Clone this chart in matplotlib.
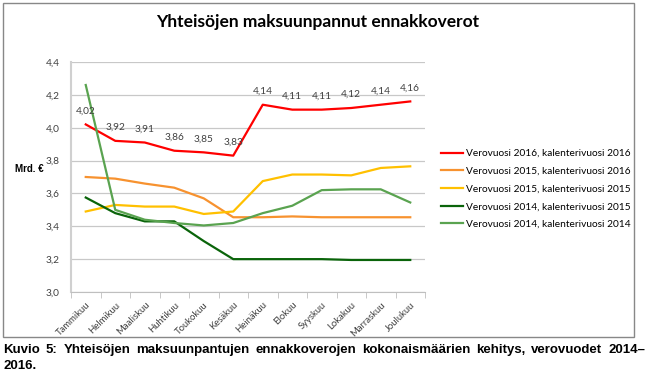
import matplotlib
matplotlib.use("Agg")
import matplotlib.pyplot as plt
from matplotlib import font_manager
from matplotlib.patches import Rectangle
from matplotlib.ticker import FuncFormatter

months = ["Tammikuu", "Helmikuu", "Maaliskuu", "Huhtikuu", "Toukokuu", "Kesäkuu",
          "Heinäkuu", "Elokuu", "Syyskuu", "Lokakuu", "Marraskuu", "Joulukuu"]

vv2016_kv2016 = [4.02, 3.92, 3.91, 3.86, 3.85, 3.83, 4.14, 4.11, 4.11, 4.12, 4.14, 4.16]
vv2015_kv2016 = [3.70, 3.69, 3.66, 3.635, 3.57, 3.455, 3.455, 3.46, 3.455, 3.455, 3.455, 3.455]
vv2015_kv2015 = [3.49, 3.53, 3.52, 3.52, 3.475, 3.49, 3.675, 3.715, 3.715, 3.71, 3.755, 3.765]
vv2014_kv2015 = [3.575, 3.48, 3.43, 3.43, 3.31, 3.20, 3.20, 3.20, 3.20, 3.195, 3.195, 3.195]
vv2014_kv2014 = [4.26, 3.50, 3.44, 3.42, 3.405, 3.42, 3.48, 3.525, 3.62, 3.625, 3.625, 3.545]

series = [
    ("Verovuosi 2016, kalenterivuosi 2016", vv2016_kv2016, "#FF0000"),
    ("Verovuosi 2015, kalenterivuosi 2016", vv2015_kv2016, "#F7922F"),
    ("Verovuosi 2015, kalenterivuosi 2015", vv2015_kv2015, "#FFC000"),
    ("Verovuosi 2014, kalenterivuosi 2015", vv2014_kv2015, "#0A640A"),
    ("Verovuosi 2014, kalenterivuosi 2014", vv2014_kv2014, "#5AA350"),
]

W, H = 648, 380
fig = plt.figure(figsize=(W / 100, H / 100), dpi=100)

# kehys kaavion ympärillä
fig.patches.append(Rectangle((3 / W, 1 - 337 / H), 631 / W, 334 / H,
                             transform=fig.transFigure, fill=False,
                             edgecolor="#888888", linewidth=1.0))

ax = fig.add_axes([71 / W, 1 - 292 / H, 354 / W, 230 / H])
x = list(range(len(months)))
for label, vals, color in series:
    ax.plot(x, vals, color=color, linewidth=1.6, label=label)

for xi, v in zip(x, vv2016_kv2016):
    ax.annotate(f"{v:.2f}".replace(".", ","), (xi, v), xytext=(0, 6.5),
                textcoords="offset points", ha="center", va="bottom",
                fontsize=7.3, family="Lato", color="#404040")

ax.set_xlim(-0.5, 11.5)
ax.set_ylim(3.0, 4.4)
ax.set_yticks([3.0, 3.2, 3.4, 3.6, 3.8, 4.0, 4.2, 4.4])
ax.yaxis.set_major_formatter(FuncFormatter(lambda v, _: f"{v:.1f}".replace(".", ",")))
ax.set_xticks(x)
ax.set_xticklabels(months, rotation=45, ha="right", rotation_mode="anchor",
                   fontsize=6.8, family="Lato", color="#404040")
ax.set_xticks([i - 0.5 for i in range(13)], minor=True)
ax.tick_params(axis="x", which="major", length=0, pad=6)
ax.tick_params(axis="x", which="minor", length=4, color="#BFBFBF")
ax.tick_params(axis="y", length=0, labelsize=7.3, labelcolor="#404040", pad=8)
for t in ax.get_yticklabels():
    t.set_family("Lato")
ax.grid(True, axis="y", color="#C8C8C8", linewidth=0.9)
ax.set_axisbelow(True)
for side in ("top", "right"):
    ax.spines[side].set_visible(False)
ax.spines["left"].set_color("#D0D0D0")
ax.spines["left"].set_linewidth(1.5)
ax.spines["bottom"].set_color("#BFBFBF")

fig.text(44 / W, 1 - 169 / H, "Mrd. €", ha="right", va="center",
         fontsize=7, fontweight="bold", family="Liberation Sans")

fig.text(318 / W, 1 - 22 / H, "Yhteisöjen maksuunpannut ennakkoverot",
         ha="center", va="center", fontsize=12.5, fontweight="bold", family="Lato")

ax.legend(loc="upper left", bbox_to_anchor=(436 / W, 1 - 144 / H),
          bbox_transform=fig.transFigure, frameon=False,
          prop={"family": "Lato", "size": 7.3}, handlelength=2.2,
          handletextpad=0.3, labelspacing=0.85, borderpad=0)

# kuvateksti tasattuna molempiin reunoihin
names = {f.name for f in font_manager.fontManager.ttflist}
if "Liberation Sans Narrow" in names:
    cap_kw = dict(fontsize=10.5, fontweight="bold", family="Liberation Sans Narrow")
else:
    cap_kw = dict(fontsize=9.5, fontweight="bold", family="Liberation Sans")
cap_kw.update(va="center", ha="left")

caption1 = ("Kuvio 5: Yhteisöjen maksuunpantujen ennakkoverojen "
            "kokonaismäärien kehitys, verovuodet 2014–").split(" ")
renderer = fig.canvas.get_renderer()
words = [fig.text(0, 1 - 350 / H, w, **cap_kw) for w in caption1]
widths = [t.get_window_extent(renderer).width for t in words]
left, right = 3, 645
gap = (right - left - sum(widths)) / (len(words) - 1)
pos = left
for t, wdt in zip(words, widths):
    t.set_x(pos / W)
    pos += wdt + gap
fig.text(3 / W, 1 - 366 / H, "2016.", **cap_kw)

fig.savefig("out.png", dpi=100)
